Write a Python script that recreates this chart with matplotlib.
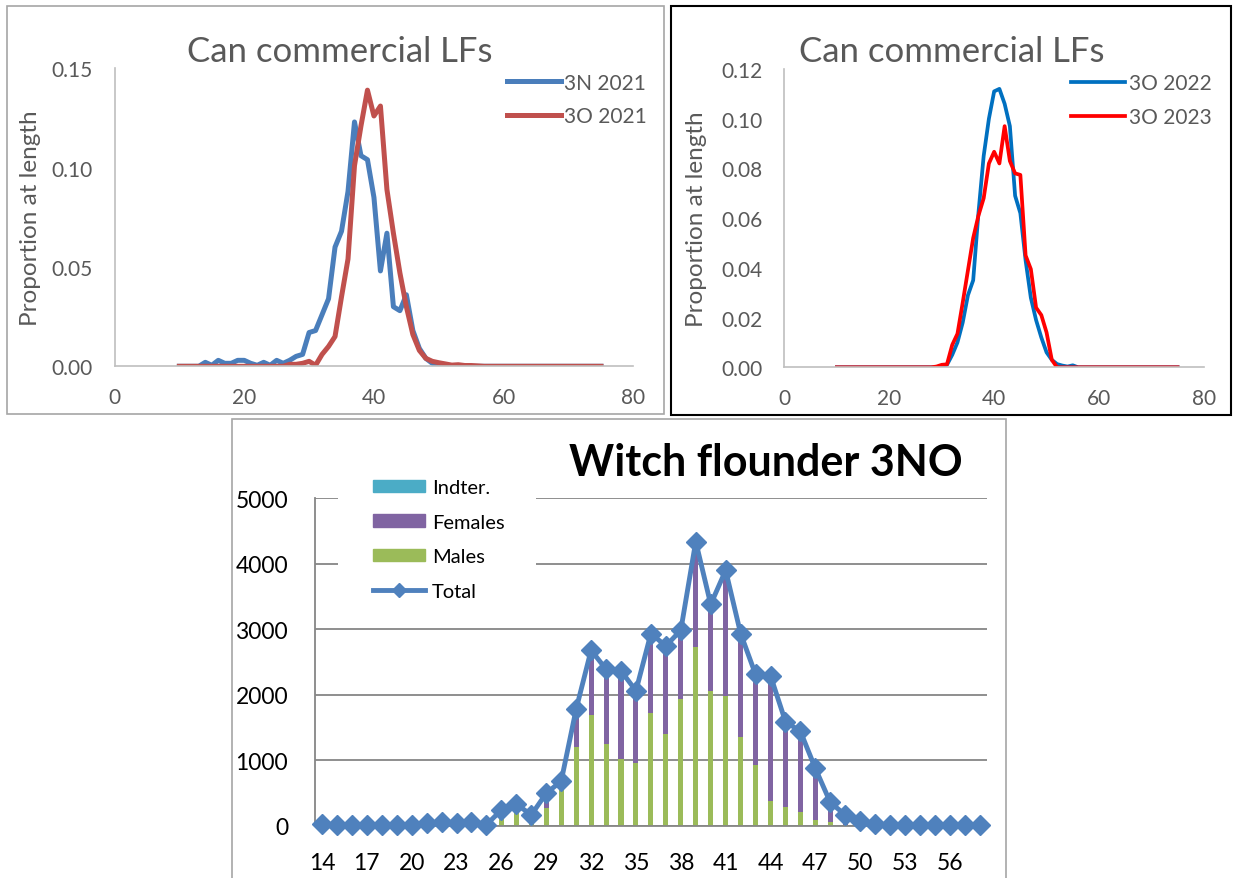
import numpy as np
import matplotlib.pyplot as plt
from matplotlib.patches import Rectangle, Patch
from matplotlib.lines import Line2D

plt.rcParams['font.family'] = ['Lato', 'DejaVu Sans']

W, H = 1233, 879

# Canadian commercial length frequencies (proportion at length, 10-75 cm)
lengths = list(range(10, 76))
n3_2021 = [0, 0, 0, 0,
           0.002, 0.0005, 0.003, 0.0015, 0.0015, 0.003, 0.003, 0.0015, 0.0005, 0.002,
           0.0005, 0.003, 0.0015, 0.003, 0.005, 0.006, 0.017, 0.018, 0.026, 0.034,
           0.060, 0.068, 0.088, 0.123, 0.106, 0.104, 0.085, 0.048, 0.067, 0.030,
           0.028, 0.036, 0.018, 0.009, 0.004, 0.0015, 0.0003,
           0, 0, 0, 0, 0, 0, 0, 0, 0, 0, 0, 0, 0, 0, 0, 0, 0, 0, 0, 0, 0, 0, 0, 0, 0]
o3_2021 = [0, 0, 0, 0, 0, 0, 0, 0, 0, 0, 0, 0, 0, 0, 0, 0, 0,
           0.001, 0.001, 0.0015, 0.0025, 0.0005, 0.006, 0.010, 0.015, 0.035, 0.054,
           0.101, 0.121, 0.139, 0.126, 0.131, 0.089, 0.067, 0.047, 0.030, 0.016,
           0.008, 0.004, 0.0025, 0.0018, 0.0012, 0.0006, 0.0008, 0.0004, 0.0004, 0.0002,
           0, 0, 0, 0, 0, 0, 0, 0, 0, 0, 0, 0, 0, 0, 0, 0, 0, 0, 0]
o3_2022 = [0, 0, 0, 0, 0, 0, 0, 0, 0, 0, 0, 0, 0, 0, 0, 0, 0, 0, 0, 0,
           0.0005, 0.001, 0.005, 0.010, 0.018, 0.029, 0.035, 0.062, 0.085, 0.100,
           0.111, 0.112, 0.106, 0.097, 0.069, 0.062, 0.043, 0.028, 0.019, 0.012,
           0.006, 0.003, 0.0013, 0.0007, 0.0003, 0.0008,
           0, 0, 0, 0, 0, 0, 0, 0, 0, 0, 0, 0, 0, 0, 0, 0, 0, 0, 0, 0]
o3_2023 = [0, 0, 0, 0, 0, 0, 0, 0, 0, 0, 0, 0, 0, 0, 0, 0, 0, 0, 0,
           0.0003, 0.001, 0.0012, 0.009, 0.0135, 0.026, 0.039, 0.052, 0.061, 0.068,
           0.082, 0.0867, 0.082, 0.097, 0.083, 0.078, 0.0774, 0.045, 0.0395, 0.024,
           0.021, 0.014, 0.003,
           0, 0, 0, 0, 0, 0, 0, 0, 0, 0, 0, 0, 0, 0, 0, 0, 0, 0, 0, 0, 0, 0, 0, 0]

# Witch flounder 3NO numbers at length (14-58 cm)
wf_lengths = list(range(14, 59))
males = [0, 0, 0, 0, 0, 0, 0, 0, 0, 0, 0, 0,
         100, 200, 60, 265, 560, 1205, 1690, 1250, 1015, 955, 1720, 1400, 1935,
         2730, 2055, 1975, 1350, 925, 380, 280, 205, 85, 55, 15, 5,
         0, 0, 0, 0, 0, 0, 0, 0]
females = [25, 15, 15, 15, 15, 15, 15, 35, 50, 40, 50, 15,
           140, 130, 105, 230, 120, 575, 990, 1140, 1350, 1105, 1215, 1345, 1050,
           1610, 1325, 1925, 1585, 1385, 1910, 1310, 1235, 790, 300, 150, 65,
           25, 10, 10, 10, 10, 10, 10, 10]
indter = [0] * 45
total = [25, 15, 15, 15, 15, 15, 15, 35, 50, 40, 50, 15,
         240, 330, 165, 495, 680, 1780, 2680, 2390, 2365, 2060, 2935, 2745, 2985,
         4340, 3380, 3900, 2935, 2310, 2290, 1590, 1440, 875, 355, 165, 70,
         25, 10, 10, 10, 10, 10, 10, 10]

GREY_TXT = '#595959'
AXIS_GREY = '#BFBFBF'

fig = plt.figure(figsize=(W / 100, H / 100), dpi=100)


def px_axes(l, t, r, b):
    return fig.add_axes([l / W, 1 - b / H, (r - l) / W, (b - t) / H])


def px_frame(l, t, r, b, color, lw):
    fig.add_artist(Rectangle((l / W, 1 - b / H), (r - l) / W, (b - t) / H,
                             transform=fig.transFigure, fill=False,
                             ec=color, lw=lw, clip_on=False))


def lf_panel(ax, s1, s2, labels, colors, lw, ymax, ystep, title_x, leg_x):
    ax.plot(lengths, s1, color=colors[0], lw=lw, label=labels[0], solid_joinstyle='round')
    ax.plot(lengths, s2, color=colors[1], lw=lw, label=labels[1], solid_joinstyle='round')
    ax.set_xlim(0, 80)
    ax.set_ylim(0, ymax)
    ax.set_xticks(range(0, 81, 20))
    yt = np.arange(0, ymax + ystep / 2, ystep)
    ax.set_yticks(yt)
    ax.set_yticklabels(['%.2f' % v for v in yt])
    for side in ['top', 'right']:
        ax.spines[side].set_visible(False)
    for side in ['left', 'bottom']:
        ax.spines[side].set_color(AXIS_GREY)
        ax.spines[side].set_linewidth(1.2)
    ax.tick_params(length=0, labelsize=15, labelcolor=GREY_TXT)
    ax.tick_params(axis='y', pad=16)
    ax.tick_params(axis='x', pad=15)
    ax.set_ylabel('Proportion at length', fontsize=17.5, color=GREY_TXT)
    ax.legend(loc='upper left', bbox_to_anchor=(leg_x, 0.985), frameon=False,
              fontsize=15, handlelength=2.6, handletextpad=0.15,
              labelspacing=0.65, borderpad=0, borderaxespad=0, labelcolor=GREY_TXT)
    fig.text(title_x / W, 1 - 52 / H, 'Can commercial LFs', fontsize=25,
             color=GREY_TXT, ha='center', va='center')


# top left panel
px_frame(7, 7, 664, 415, '#A6A6A6', 1.2)
ax1 = px_axes(114.5, 69.3, 633.4, 367.3)
lf_panel(ax1, n3_2021, o3_2021, ['3N 2021', '3O 2021'], ['#4A7EBB', '#C0504D'],
         3.6, 0.15, 0.05, 340, 0.756)
ax1.yaxis.set_label_coords(-0.142, 0.5)

# top right panel
px_frame(671, 7, 1231, 416, 'black', 1.5)
ax2 = px_axes(784.5, 70, 1203.8, 368.3)
lf_panel(ax2, o3_2022, o3_2023, ['3O 2022', '3O 2023'], ['#0070C0', '#FF0000'],
         2.7, 0.12, 0.02, 952, 0.684)
ax2.yaxis.set_label_coords(-0.185, 0.5)

# bottom panel: witch flounder stacked bars + total
px_frame(232, 420, 1006, 890, '#A6A6A6', 1.2)
ax3 = px_axes(314.5, 499.3, 987.3, 826.7)
x = np.arange(len(wf_lengths))
bw = 0.34
m = np.array(males)
f = np.array(females)
ax3.bar(x, males, bw, color='#9BBB59', zorder=2)
ax3.bar(x, females, bw, bottom=m, color='#8064A2', zorder=2)
ax3.bar(x, indter, bw, bottom=m + f, color='#4BACC6', zorder=2)
ax3.plot(x, total, color='#4F81BD', lw=3.5, marker='D', ms=10,
         clip_on=False, zorder=5)
ax3.set_xlim(-0.5, len(x) - 0.5)
ax3.set_ylim(0, 5000)
ax3.set_yticks(range(0, 5001, 1000))
ax3.set_xticks(x[::3])
ax3.set_xticklabels([str(v) for v in wf_lengths[::3]])
ax3.set_axisbelow(True)
ax3.yaxis.grid(True, color='#868686', lw=1.3)
for side in ['top', 'right']:
    ax3.spines[side].set_visible(False)
for side in ['left', 'bottom']:
    ax3.spines[side].set_color('#868686')
    ax3.spines[side].set_linewidth(1.3)
ax3.tick_params(length=0, labelsize=16.5, labelcolor='black')
ax3.tick_params(axis='y', pad=19)
ax3.tick_params(axis='x', pad=19)

# white box behind the legend
ax3.add_patch(Rectangle((0.035, 0.69), 0.294, 0.40, transform=ax3.transAxes,
                        fc='white', ec='none', zorder=1, clip_on=False))
handles = [Patch(color='#4BACC6'), Patch(color='#8064A2'), Patch(color='#9BBB59'),
           Line2D([], [], color='#4F81BD', lw=3.5, marker='D', ms=7)]
ax3.legend(handles, ['Indter.', 'Females', 'Males', 'Total'], loc='upper left',
           bbox_to_anchor=((373 - 314.5) / 672.8, (826.7 - 480) / 327.4),
           frameon=False, fontsize=14.5, handlelength=2.6, handleheight=0.6,
           handletextpad=0.32, labelspacing=0.87, borderpad=0, borderaxespad=0)
fig.text(766 / W, 1 - 463 / H, 'Witch flounder 3NO', fontsize=31,
         fontweight='bold', color='black', ha='center', va='center')

fig.savefig('out.png', dpi=100)
